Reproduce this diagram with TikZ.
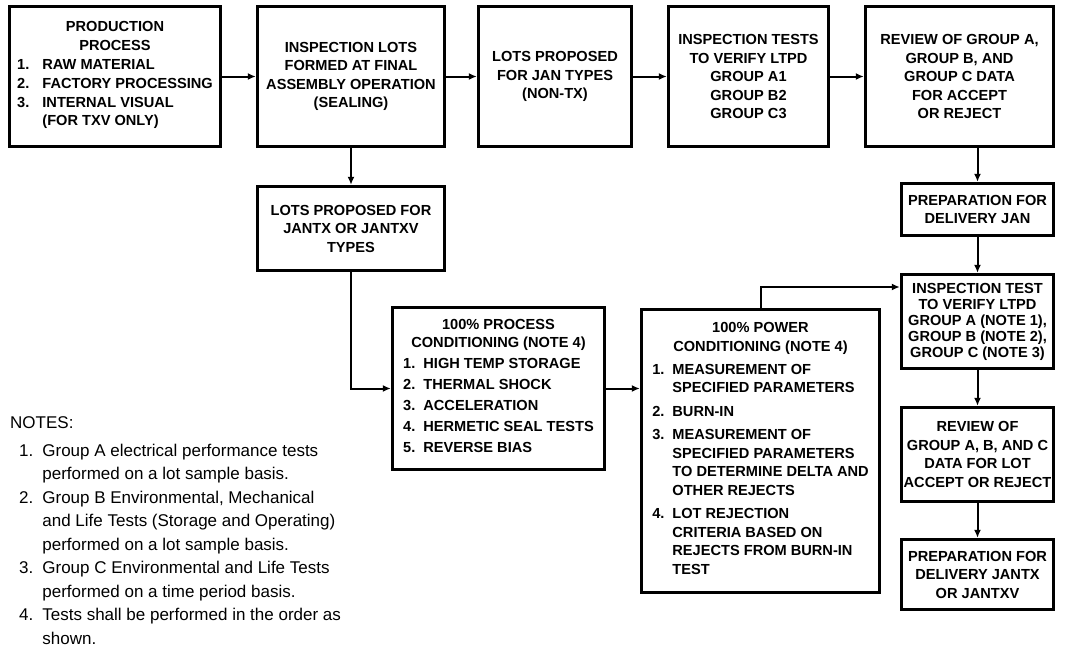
\documentclass[tikz,border=0pt]{standalone}
\usepackage{fontspec}
\setmainfont{Liberation Sans}
\usetikzlibrary{arrows.meta}
\newcommand{\boxfont}{\bfseries\fontsize{14.6}{18.5}\selectfont}
\newcommand{\tightfont}{\bfseries\fontsize{14.6}{16}\selectfont}
\newcommand{\steplist}[2][8pt]{\begin{tabular}{@{}l@{\hspace{#1}}l@{}}#2\end{tabular}}
\begin{document}
\begin{tikzpicture}[x=1pt,y=-1pt,
  box/.style={draw,line width=3.4pt,font=\boxfont,align=center,inner sep=0pt},
  flow/.style={line width=2pt,-{Latex[length=8pt,width=7pt]}}]
  \useasboundingbox (0,0) rectangle (1065,648);
  % Top row of boxes
  \node[box,minimum width=211,minimum height=140] (prod) at (115,76.5)
    {PRODUCTION\\PROCESS\\[5pt]
     \steplist[13pt]{1.&RAW MATERIAL\\[1pt] 2.&FACTORY PROCESSING\\[0pt] 3.&INTERNAL VISUAL\\ &(FOR TXV ONLY)}};
  \node[box,minimum width=187,minimum height=140] (lots) at (351,76.5)
    {INSPECTION LOTS\\FORMED AT FINAL\\ASSEMBLY OPERATION\\(SEALING)};
  \node[box,minimum width=153,minimum height=140] (janlots) at (555,76.5)
    {LOTS PROPOSED\\FOR JAN TYPES\\(NON-TX)};
  \node[box,minimum width=160,minimum height=140] (ltpd) at (748.5,76.5)
    {INSPECTION TESTS\\TO VERIFY LTPD\\GROUP A1\\GROUP B2\\GROUP C3};
  \node[box,minimum width=188,minimum height=140] (review) at (959.5,76.5)
    {REVIEW OF GROUP A,\\GROUP B, AND\\GROUP C DATA\\FOR ACCEPT\\OR REJECT};
  \foreach \a/\b in {prod/lots,lots/janlots,janlots/ltpd,ltpd/review}
    \draw[flow] (\a.east) -- (\b.west);
  % JANTX / JANTXV branch
  \node[box,minimum width=187,minimum height=84] (txlots) at (351,228.5)
    {LOTS PROPOSED FOR\\JANTX OR JANTXV\\TYPES};
  \node[box,minimum width=212,minimum height=162] (proccond) at (498.5,388.5)
    {100\% PROCESS\\CONDITIONING (NOTE 4)\\[4pt]
     \steplist{1.&HIGH TEMP STORAGE\\[2.5pt] 2.&THERMAL SHOCK\\[2.5pt] 3.&ACCELERATION\\[2.5pt]
     4.&HERMETIC SEAL TESTS\\[2.5pt] 5.&REVERSE BIAS}};
  \node[box,minimum width=238,minimum height=283] (powcond) at (760.5,451)
    {100\% POWER\\CONDITIONING (NOTE 4)\\[6pt]
     \steplist{1.&MEASUREMENT OF\\ &SPECIFIED PARAMETERS\\[5pt] 2.&BURN-IN\\[5pt]
     3.&MEASUREMENT OF\\ &SPECIFIED PARAMETERS\\ &TO DETERMINE DELTA AND\\ &OTHER REJECTS\\[5pt]
     4.&LOT REJECTION\\ &CRITERIA BASED ON\\ &REJECTS FROM BURN-IN\\ &TEST}};
  \draw[flow] (lots.south) -- (txlots.north);
  \draw[flow] (txlots.south) |- (proccond.west);
  \draw[flow] (proccond.east) -- (proccond.east -| powcond.west);
  % Right column
  \node[box,minimum width=152,minimum height=52] (janprep) at (977.5,209.5)
    {PREPARATION FOR\\DELIVERY JAN};
  \node[box,font=\tightfont,minimum width=152,minimum height=94] (insptest) at (977.5,321.5)
    {INSPECTION TEST\\TO VERIFY LTPD\\GROUP A (NOTE 1),\\GROUP B (NOTE 2),\\GROUP C (NOTE 3)};
  \node[box,minimum width=152,minimum height=94] (lotreview) at (977.5,454.5)
    {REVIEW OF\\GROUP A, B, AND C\\DATA FOR LOT\\ACCEPT OR REJECT};
  \node[box,minimum width=152,minimum height=70] (txprep) at (977.5,574.5)
    {PREPARATION FOR\\DELIVERY JANTX\\OR JANTXV};
  \draw[flow] (janprep.north |- review.south) -- (janprep.north);
  \foreach \a/\b in {janprep/insptest,insptest/lotreview,lotreview/txprep}
    \draw[flow] (\a.south) -- (\b.north);
  \coordinate (pwtop) at (760.5,287);
  \draw[flow] (powcond.north) |- (pwtop -| insptest.west);
  % Notes
  \node[anchor=north west,inner sep=0pt,font=\fontsize{17}{23.5}\selectfont] (notes) at (10,412)
    {\begin{tabular}[t]{@{\hspace{9pt}}l@{\hspace{9pt}}l@{}}
     \multicolumn{2}{@{}l}{NOTES:}\\[4pt]
     1.&Group A electrical performance tests\\ &performed on a lot sample basis.\\
     2.&Group B Environmental, Mechanical\\ &and Life Tests (Storage and Operating)\\ &performed on a lot sample basis.\\
     3.&Group C Environmental and Life Tests\\ &performed on a time period basis.\\
     4.&Tests shall be performed in the order as\\ &shown.
     \end{tabular}};
\end{tikzpicture}
\end{document}
